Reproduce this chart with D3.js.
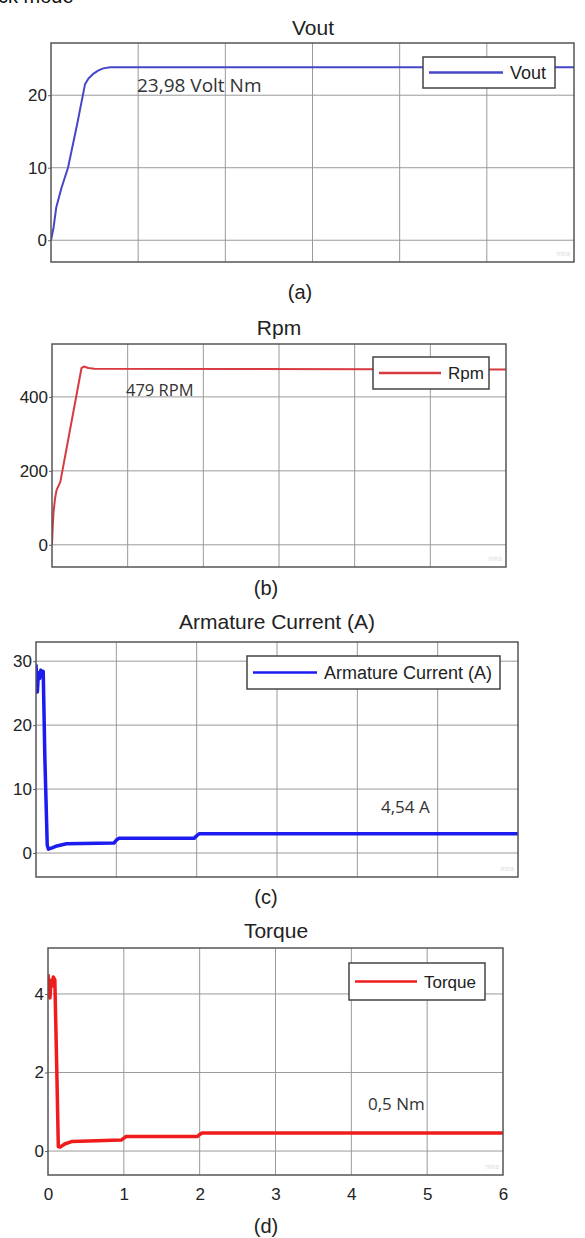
<!DOCTYPE html>
<html lang="en">
<head>
<meta charset="UTF-8">
<title>Motor response</title>
<script src="https://d3js.org/d3.v7.min.js"></script>
<style>
  body { margin: 0; background: #fff; }
  text { font-family: "Liberation Sans", Arial, sans-serif; fill: #222; }
  .note { font-family: "Open Sans", "Noto Sans", sans-serif; fill: #333; }
</style>
</head>
<body>
<svg id="fig" width="585" height="1238"></svg>
<script>
// values
var xTicks = [0, 1, 2, 3, 4, 5, 6];

var voutT = [0, 0.03, 0.06, 0.12, 0.195, 0.3, 0.39, 0.43, 0.48, 0.54, 0.6, 0.68, 6];
var voutV = [0, 1.8, 4.5, 7.2, 10, 16, 21.5, 22.3, 22.9, 23.4, 23.7, 23.85, 23.85];
var voutTicks = [0, 10, 20];

var rpmT = [0, 0.01, 0.02, 0.04, 0.06, 0.11, 0.25, 0.39, 0.42, 0.48, 0.56, 6];
var rpmV = [0, 50, 88, 125, 148, 170, 324, 478, 482, 478, 476, 474];
var rpmTicks = [0, 200, 400];

var curT = [0, 0.01, 0.017, 0.03, 0.045, 0.06, 0.075, 0.09, 0.11, 0.14, 0.155, 0.2, 0.26, 0.38, 0.97, 1.0, 1.03, 1.97, 2.0, 2.03, 6];
var curV = [29.5, 27, 25.2, 28.2, 27.3, 28.6, 27.8, 28.4, 15, 1.2, 0.6, 0.8, 1.1, 1.45, 1.55, 2.0, 2.3, 2.3, 2.7, 3.0, 3.0];
var curTicks = [0, 10, 20, 30];

var torqT = [0, 0.015, 0.026, 0.04, 0.055, 0.07, 0.09, 0.115, 0.136, 0.16, 0.22, 0.31, 0.97, 1.0, 1.03, 1.97, 2.0, 2.03, 6];
var torqV = [4.5, 4.1, 3.9, 4.35, 4.2, 4.43, 4.36, 2.15, 0.11, 0.1, 0.18, 0.24, 0.28, 0.33, 0.37, 0.37, 0.42, 0.46, 0.46];
var torqTicks = [0, 2, 4];

var svg = d3.select("#fig");

// cut-off heading from the page above
svg.append("text").attr("x", -2).attr("y", 3).style("font-size", "20px").style("fill", "#111").text("ck mode");

function panel(p) {
  var x = d3.scaleLinear([0, 6], [p.left, p.right]);
  var y = d3.scaleLinear(p.ydom, [p.bottom, p.top]);
  var g = svg.append("g");

  // grid
  g.append("g").selectAll("line").data(xTicks.slice(1, -1)).enter().append("line")
    .attr("x1", d => x(d)).attr("x2", d => x(d)).attr("y1", p.top).attr("y2", p.bottom)
    .attr("stroke", "#9a9a9a").attr("stroke-width", 1);
  g.append("g").selectAll("line").data(p.yticks).enter().append("line")
    .attr("x1", p.left).attr("x2", p.right).attr("y1", d => y(d)).attr("y2", d => y(d))
    .attr("stroke", "#9a9a9a").attr("stroke-width", 1);

  // y axis labels
  var ya = g.append("g").attr("transform", "translate(" + p.left + ",0)")
    .call(d3.axisLeft(y).tickValues(p.yticks).tickSize(3).tickPadding(1).tickFormat(d3.format("d")));
  ya.select(".domain").remove();
  ya.selectAll("line").attr("stroke", "#666");
  ya.selectAll("text").style("font-size", "17px").style("font-family", "Liberation Sans, Arial").attr("fill", "#333");

  if (p.xlabels) {
    var xa = g.append("g").attr("transform", "translate(0," + p.bottom + ")")
      .call(d3.axisBottom(x).tickValues(xTicks).tickSize(0).tickPadding(13).tickFormat(d3.format("d")));
    xa.select(".domain").remove();
    xa.selectAll("text").style("font-size", "17px").style("font-family", "Liberation Sans, Arial").attr("fill", "#333");
  }

  // curve
  var id = "clip" + p.key;
  svg.append("clipPath").attr("id", id).append("rect")
    .attr("x", p.left).attr("y", p.top).attr("width", p.right - p.left).attr("height", p.bottom - p.top);
  var pts = p.t.map((t, i) => [t, p.v[i]]);
  g.append("path").datum(pts).attr("clip-path", "url(#" + id + ")")
    .attr("fill", "none").attr("stroke", p.color).attr("stroke-width", p.lw)
    .attr("stroke-linejoin", "round")
    .attr("d", d3.line().x(d => x(d[0])).y(d => y(d[1])));

  // frame
  g.append("rect").attr("x", p.left).attr("y", p.top).attr("width", p.right - p.left).attr("height", p.bottom - p.top)
    .attr("fill", "none").attr("stroke", "#555").attr("stroke-width", 1.5);

  // watermark
  g.append("text").attr("x", p.right - 4).attr("y", p.bottom - 6).attr("text-anchor", "end")
    .style("font-size", "7px").style("fill", "#ddd").text("mira");

  // legend
  var L = p.legend;
  g.append("rect").attr("x", L.x).attr("y", L.y).attr("width", L.w).attr("height", L.h)
    .attr("fill", "#fff").attr("stroke", "#444").attr("stroke-width", 1.5);
  g.append("line").attr("x1", L.x + 6).attr("x2", L.x + 6 + L.lineLen)
    .attr("y1", L.y + L.h / 2).attr("y2", L.y + L.h / 2)
    .attr("stroke", p.color).attr("stroke-width", 2.5);
  g.append("text").attr("x", L.x + 13 + L.lineLen).attr("y", L.y + L.h / 2 + L.fs * 0.36)
    .style("font-size", L.fs + "px").text(p.name);

  // title, annotation, sub-label
  g.append("text").attr("x", p.titleX).attr("y", p.titleY).attr("text-anchor", "middle")
    .style("font-size", "21px").text(p.name);
  g.append("text").attr("class", "note").attr("x", p.noteX).attr("y", p.noteY)
    .style("font-size", p.noteFs + "px").text(p.note);
  g.append("text").attr("x", p.subX).attr("y", p.subY).attr("text-anchor", "middle")
    .style("font-size", "20px").text(p.sub);
}

panel({ key: "a", name: "Vout", t: voutT, v: voutV, yticks: voutTicks, ydom: [-3, 27.2],
  left: 51, right: 574, top: 43, bottom: 262, color: "#4646c8", lw: 2,
  legend: { x: 423, y: 57, w: 132, h: 31, lineLen: 74, fs: 18 },
  titleX: 313, titleY: 35, note: "23,98 Volt Nm", noteX: 137, noteY: 92, noteFs: 19,
  sub: "(a)", subX: 300, subY: 299 });

panel({ key: "b", name: "Rpm", t: rpmT, v: rpmV, yticks: rpmTicks, ydom: [-60, 543],
  left: 52, right: 506, top: 344, bottom: 567, color: "#d83a42", lw: 2,
  legend: { x: 373, y: 357, w: 116, h: 32, lineLen: 62, fs: 17 },
  titleX: 279, titleY: 335, note: "479 RPM", noteX: 126, noteY: 396, noteFs: 16.5,
  sub: "(b)", subX: 266, subY: 595 });

panel({ key: "c", name: "Armature Current (A)", t: curT, v: curV, yticks: curTicks, ydom: [-3.75, 33],
  left: 36, right: 518, top: 642, bottom: 877, color: "#1c1cf0", lw: 3.5,
  legend: { x: 247, y: 656, w: 253, h: 33, lineLen: 64, fs: 18 },
  titleX: 277, titleY: 629, note: "4,54 A", noteX: 381, noteY: 813, noteFs: 17,
  sub: "(c)", subX: 266, subY: 904 });

panel({ key: "d", name: "Torque", t: torqT, v: torqV, yticks: torqTicks, ydom: [-0.61, 5.17],
  left: 48, right: 503, top: 948, bottom: 1175, color: "#f01c1c", lw: 3.5, xlabels: true,
  legend: { x: 349, y: 963, w: 136, h: 37, lineLen: 62, fs: 17 },
  titleX: 276, titleY: 938, note: "0,5 Nm", noteX: 368, noteY: 1110, noteFs: 17,
  sub: "(d)", subX: 266, subY: 1233 });
</script>
</body>
</html>
